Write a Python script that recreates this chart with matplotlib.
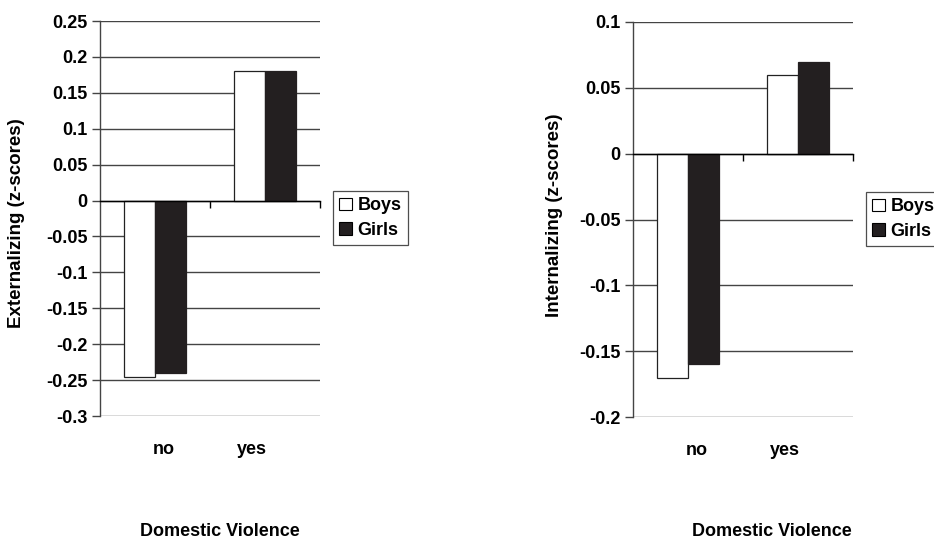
import matplotlib
matplotlib.use("Agg")
import matplotlib.pyplot as plt
import numpy as np
from matplotlib.patches import Patch

plt.rcParams['font.family'] = ['Liberation Sans', 'DejaVu Sans']
plt.rcParams['font.weight'] = 'bold'

categories = ["no", "yes"]
series = ["Boys", "Girls"]
ext_boys = [-0.245, 0.18]
ext_girls = [-0.24, 0.18]
int_boys = [-0.17, 0.06]
int_girls = [-0.16, 0.07]
ext_ticks = [0.25, 0.2, 0.15, 0.1, 0.05, 0, -0.05, -0.1, -0.15, -0.2, -0.25, -0.3]
int_ticks = [0.1, 0.05, 0, -0.05, -0.1, -0.15, -0.2]

W, H = 934, 542
fig = plt.figure(figsize=(W / 100, H / 100), dpi=100)

FS = 13
grid_col = '#444444'
label_shift = [0.08, -0.12]

def panel(rect, boys, girls, ticks, ylabel, ylabel_xy, legend_xy):
    ax = fig.add_axes(rect)
    x = np.arange(len(categories))
    bw = 0.286
    ax.bar(x - bw / 2, boys, bw, color='white', edgecolor='#222222', linewidth=0.9, zorder=3)
    ax.bar(x + bw / 2, girls, bw, color='#231f20', edgecolor='#231f20', linewidth=0.9, zorder=3)
    ax.set_xlim(-0.5, len(categories) - 0.5)
    ax.set_ylim(min(ticks), max(ticks))
    ax.set_yticks(ticks)
    ax.set_yticklabels([f"{t:g}" for t in ticks], fontsize=FS, fontweight='bold')
    ax.yaxis.grid(True, color=grid_col, linewidth=1.0, zorder=1)
    ax.set_axisbelow(True)
    for s in ['top', 'right']:
        ax.spines[s].set_visible(False)
    ax.spines['left'].set_color(grid_col)
    ax.spines['left'].set_linewidth(1.0)
    ax.spines['bottom'].set_position(('data', 0))
    ax.spines['bottom'].set_color('black')
    ax.spines['bottom'].set_linewidth(1.0)
    ax.spines['bottom'].set_zorder(4)
    ax.set_xticks(x + 0.5)
    ax.tick_params(axis='x', direction='out', length=5, width=1.0, labelbottom=False)
    ax.tick_params(axis='y', direction='out', length=6, width=1.0, color=grid_col, pad=3)
    sec = ax.secondary_xaxis(0)
    sec.set_xticks(x + np.array(label_shift))
    sec.set_xticklabels(categories, fontsize=FS, fontweight='bold')
    sec.tick_params(length=0, pad=18)
    sec.spines['bottom'].set_visible(False)
    ax.set_ylabel(ylabel, fontsize=13.5, fontweight='bold')
    ax.yaxis.set_label_coords(ylabel_xy[0], ylabel_xy[1], transform=fig.transFigure)
    handles = [Patch(facecolor='white', edgecolor='black', linewidth=0.8),
               Patch(facecolor='#231f20', edgecolor='black', linewidth=0.8)]
    leg = fig.legend(handles, series, loc='upper left', bbox_to_anchor=legend_xy,
                     bbox_transform=fig.transFigure, fontsize=FS, frameon=True,
                     fancybox=False, edgecolor='#222222', handlelength=0.7,
                     handleheight=0.7, handletextpad=0.3, borderpad=0.35,
                     labelspacing=0.4, borderaxespad=0)
    leg.get_frame().set_linewidth(0.9)
    for t in leg.get_texts():
        t.set_fontweight('bold')
    return ax

ax1 = panel([100 / W, 1 - 416 / H, 220 / W, 395 / H], ext_boys, ext_girls, ext_ticks,
            "Externalizing (z-scores)", (25 / W, 1 - 223 / H), (333 / W, 1 - 191 / H))
ax2 = panel([633 / W, 1 - 417 / H, 220 / W, 395 / H], int_boys, int_girls, int_ticks,
            "Internalizing (z-scores)", (563 / W, 1 - 215 / H), (866 / W, 1 - 192 / H))

fig.text(220 / W, 1 - 532 / H, "Domestic Violence", ha='center', va='center',
         fontsize=FS, fontweight='bold')
fig.text(772 / W, 1 - 532 / H, "Domestic Violence", ha='center', va='center',
         fontsize=FS, fontweight='bold')

fig.savefig("out.png", dpi=100)
